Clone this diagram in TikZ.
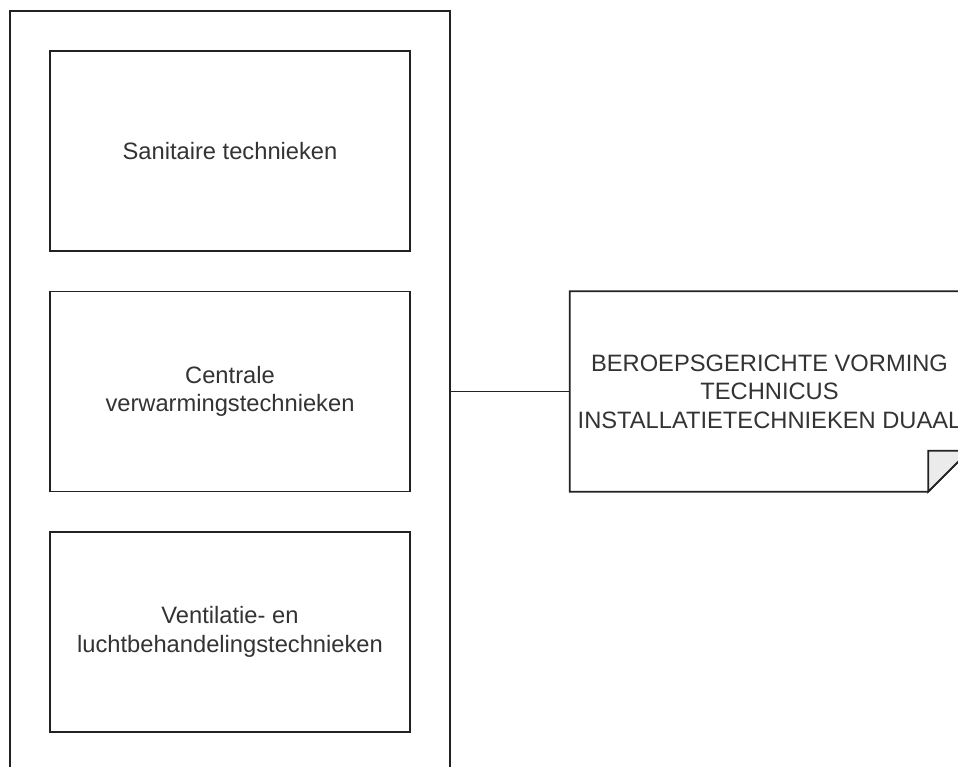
\documentclass[tikz,border=0pt]{standalone}
\usepackage{fontspec}
\setmainfont{Liberation Sans}
\usetikzlibrary{calc}
\definecolor{strokec}{HTML}{222222}
\definecolor{textc}{HTML}{333333}
\definecolor{foldc}{HTML}{EBEBEB}
\begin{document}
\begin{tikzpicture}[x=1pt,y=-1pt,
  box/.style={draw=strokec, line width=1.8pt, fill=white, minimum width=360pt, minimum height=200pt,
    align=center, text=textc, font=\fontsize{23.7}{28.4}\selectfont, inner sep=0pt},
  lbl/.style={align=center, text=textc, font=\fontsize{23.7}{28.4}\selectfont, inner sep=0pt}]
\useasboundingbox (0,0) rectangle (958,767);
\clip (0,0) rectangle (958,767);
% outer container
\node[draw=strokec, line width=1.8pt, minimum width=440pt, minimum height=769pt, inner sep=0pt] (outer) at (230,395.5) {};
\node[box] (san) at (230,151) {Sanitaire technieken};
\node[box] (cv) at (230,391.5) {Centrale\\verwarmingstechnieken};
\node[box] (vent) at (230,632) {Ventilatie- en\\luchtbehandelingstechnieken};
% note
\node[minimum width=399pt, minimum height=200pt, inner sep=0pt] (note) at (769.5,391.5) {};
\draw[strokec, line width=1.8pt, line join=miter, fill=white]
  (note.north west) -- (note.north east) -- ($(note.south east)+(0,-41)$)
  -- ($(note.south east)+(-41,0)$) -- (note.south west) -- cycle;
\draw[strokec, line width=1.8pt, fill=foldc, line join=miter]
  ($(note.south east)+(-41,0)$) -- ($(note.south east)+(-41,-41)$) -- ($(note.south east)+(0,-41)$) -- cycle;
\node[lbl] (notetext) at (note.center) {BEROEPSGERICHTE VORMING\\TECHNICUS\\INSTALLATIETECHNIEKEN DUAAL};
% connector
\draw[strokec, line width=1.8pt] (outer.east |- note.west) -- (note.west);
\end{tikzpicture}
\end{document}
